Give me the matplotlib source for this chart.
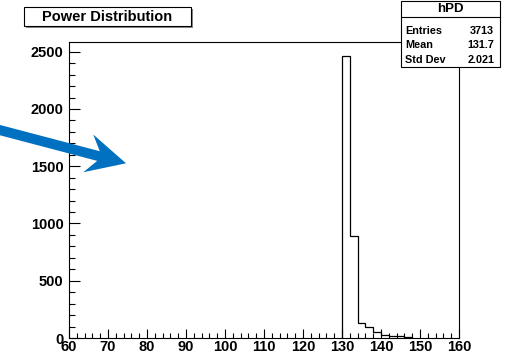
import numpy as np
import matplotlib
matplotlib.use("Agg")
import matplotlib.pyplot as plt
from matplotlib.patches import FancyArrow, Rectangle
from matplotlib.transforms import Affine2D

# histogram contents (non-empty bins only, width 2)
bin_edges = [130, 132, 134, 136, 138, 140, 142, 144, 146, 148]
bin_counts = [2462, 895, 134, 92, 56, 30, 14, 18, 12]

hist_name = "hPD"
title = "Power Distribution"
stat_labels = ["Entries", "Mean", "Std Dev"]
stat_values = ["3713", "131.7", "2.021"]

W, H = 513, 354
plt.rcParams["font.family"] = ["Liberation Sans", "DejaVu Sans"]

fig = plt.figure(figsize=(W / 100, H / 100), dpi=100)
ax = fig.add_axes([69 / W, 1 - 338 / H, (459 - 69) / W, (338 - 42) / H])

ax.stairs(bin_counts, bin_edges, color="black", linewidth=0.9)
ax.set_xlim(60, 160)
ax.set_ylim(0, max(bin_counts) * 1.05)

ax.set_xticks(np.arange(60, 161, 10))
ax.set_xticks(np.arange(60, 161, 2), minor=True)
ax.set_yticks(np.arange(0, 2501, 500))
ax.set_yticks(np.arange(0, 2501, 100), minor=True)
ax.tick_params(axis="x", which="major", direction="in", length=6.5, width=0.8, pad=1.2)
ax.tick_params(axis="x", which="minor", direction="in", length=3.6, width=0.8)
ax.tick_params(axis="y", which="major", direction="in", length=8, width=0.8, pad=4)
ax.tick_params(axis="y", which="minor", direction="in", length=4, width=0.8)
for lab in ax.get_xticklabels() + ax.get_yticklabels():
    lab.set_fontsize(10.5)
    lab.set_fontweight("bold")
for sp in ax.spines.values():
    sp.set_linewidth(0.8)

# helper: pixel coords (top-left origin) -> figure
pix = Affine2D().scale(1 / W, -1 / H).translate(0, 1) + fig.transFigure

# title box
fig.patches.append(Rectangle((26, 9), 167, 19, transform=pix, facecolor="#888888",
                             edgecolor="none"))
fig.patches.append(Rectangle((24, 7), 167, 19, transform=pix, facecolor="white",
                             edgecolor="black", linewidth=0.8))
fig.text(107.5, 17, title, transform=pix, ha="center", va="center",
         fontsize=10.5, fontweight="bold")

# stats box
fig.patches.append(Rectangle((401, 1), 99, 66, transform=pix, facecolor="white",
                             edgecolor="black", linewidth=0.8))
fig.lines.append(plt.Line2D([401, 500], [17, 17], transform=pix, color="black",
                            linewidth=0.8))
fig.text(450.5, 9.5, hist_name, transform=pix, ha="center", va="center",
         fontsize=9.5, fontweight="bold")
for i, (lab, val) in enumerate(zip(stat_labels, stat_values)):
    y = 31 + i * 14.5
    fig.text(405, y, lab, transform=pix, ha="left", va="center", fontsize=7.8,
             fontweight="bold")
    fig.text(494, y, val, transform=pix, ha="right", va="center", fontsize=7.8,
             fontweight="bold")

# blue arrow
x0, y0, x1, y1 = -10, 127.5, 126, 163.3
fig.patches.append(FancyArrow(x0, y0, x1 - x0, y1 - y0, width=10, head_width=39,
                              head_length=39, overhang=0.27,
                              length_includes_head=True, transform=pix,
                              facecolor="#0070c0", edgecolor="none"))

fig.savefig("out.png", dpi=100)
